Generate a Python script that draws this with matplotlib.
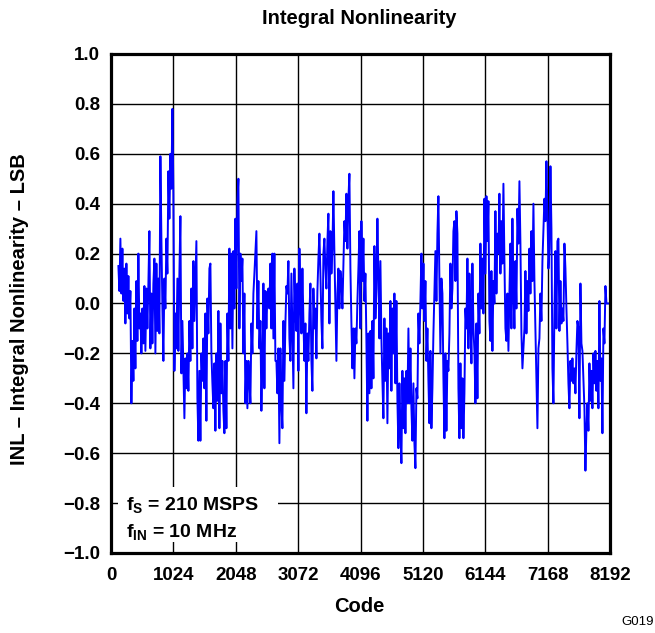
import numpy as np
import matplotlib
matplotlib.use("Agg")
import matplotlib.pyplot as plt
from matplotlib.patches import Rectangle

plt.rcParams['font.family'] = ['Liberation Sans', 'DejaVu Sans']
plt.rcParams['mathtext.fontset'] = 'custom'
plt.rcParams['mathtext.rm'] = 'Liberation Sans:bold'
plt.rcParams['mathtext.it'] = 'Liberation Sans:bold'
plt.rcParams['mathtext.bf'] = 'Liberation Sans:bold'

# ---- data (INL in LSB, evenly spaced in code) ----
code_start = 121
code_end = 8117
inl_seg1 = [0.15, 0.05, 0.26, 0.04, 0.22, 0.01, 0.14, -0.08, 0.16, -0.04,
            0.11, -0.06, 0.05, -0.40, -0.15, -0.31, -0.02, -0.26, 0.09, -0.15,
            0.20, -0.10, -0.04, -0.20, -0.02, -0.16, 0.07, -0.19, 0.06, -0.10,
            0.08, 0.29, -0.18, 0.04, -0.16, 0.08, 0.18, -0.20, 0.16, -0.11,
            0.10, -0.12, 0.59, 0.26, -0.02, -0.23, 0.10, -0.02, 0.26, 0.12,
            0.53, 0.34, 0.60, 0.46, 0.78, 0.44, -0.27, -0.04, -0.18, 0.10,
            -0.19, 0.12, 0.35, -0.28, -0.07, -0.27, -0.46, -0.22, -0.34, -0.20,
            -0.35, -0.07, -0.23, 0.06, -0.18]
inl_seg2 = [0.17, -0.07, 0.09, 0.25, -0.38, -0.55, -0.27, -0.55, -0.20, -0.31,
            -0.14, -0.34, -0.04, -0.47, 0.02, -0.12, 0.14, 0.16, -0.20, -0.32,
            -0.42, -0.24, -0.51, -0.20, -0.39, -0.03, -0.50, -0.08, -0.36, -0.23,
            -0.43, -0.52, -0.23, -0.50, -0.04, -0.23, 0.22, -0.10, 0.20, -0.18,
            0.21, -0.02, 0.34, 0.06, 0.41, 0.50, -0.10, 0.20, 0.09, 0.18,
            -0.20, 0.04, -0.40, -0.23, -0.42, -0.23, -0.31, -0.40, -0.08, -0.20,
            0.04, 0.12, 0.21, 0.29, -0.10, 0.09, -0.18, -0.07, -0.43, -0.22,
            0.08, -0.34, 0.05, -0.10, 0.04, 0.06, -0.02, 0.16, -0.10, 0.20,
            -0.14, 0.20, -0.23]
inl_seg3 = [-0.23, -0.36, -0.18, -0.56, -0.18, -0.40, -0.50, -0.07, -0.31, -0.08,
            0.07, 0.04, 0.17, -0.14, -0.23, 0.12, -0.12, -0.34, 0.14, -0.04,
            -0.11, 0.08, -0.27, 0.22, 0.01, -0.12, 0.14, -0.07, -0.23, -0.08,
            -0.44, -0.12, -0.23, -0.04, 0.08, -0.23, -0.35, 0.06, -0.10, -0.02,
            -0.22, 0.05, 0.18, 0.28, 0.12, -0.07, -0.18, 0.20, 0.26, 0.14,
            0.06, 0.25, 0.36, -0.08, 0.29, 0.12, 0.22, 0.45, 0.20, -0.02,
            -0.23, 0.04, 0.14, -0.02, 0.13, 0.09, -0.02, 0.16, 0.33, 0.25,
            0.44, 0.22, 0.42, 0.52, 0.14, -0.08, -0.26, -0.10, -0.30, -0.10,
            -0.16, 0.01, 0.14]
inl_seg4 = [0.29, -0.10, 0.33, 0.09, 0.26, 0.01, 0.12, -0.15, -0.47, -0.12,
            -0.36, -0.11, -0.34, -0.07, -0.30, 0.23, -0.06, 0.06, 0.34, 0.12,
            -0.14, 0.17, -0.14, -0.31, -0.46, -0.06, -0.31, -0.10, -0.48, -0.12,
            -0.26, 0.01, -0.35, -0.02, -0.20, 0.04, -0.32, 0.01, -0.39, -0.58,
            -0.32, -0.50, -0.64, -0.27, -0.50, -0.30, -0.52, -0.27, -0.40, -0.10,
            -0.40, -0.18, -0.42, -0.55, -0.32, -0.56, -0.66, -0.34, -0.38, -0.04,
            -0.16, 0.01, 0.20, -0.02, 0.16, -0.07, 0.09, -0.23, -0.10, -0.31,
            -0.48, -0.19, -0.50, -0.34, -0.12, 0.04, 0.21, 0.01, 0.28, 0.43,
            0.09, -0.20, 0.10]
inl_seg5 = [0.04, -0.30, -0.54, -0.20, -0.51, -0.23, -0.27, -0.12, 0.16, -0.02,
            0.06, 0.29, 0.33, 0.09, 0.37, 0.28, -0.34, -0.54, -0.24, -0.50,
            -0.30, -0.54, -0.36, -0.02, -0.10, 0.18, -0.18, 0.12, -0.04, -0.24,
            0.16, -0.10, -0.19, -0.40, -0.08, -0.38, 0.04, -0.12, 0.24, -0.02,
            0.18, -0.04, 0.42, 0.12, 0.43, 0.25, 0.41, -0.07, -0.15, 0.13,
            -0.19, 0.09, 0.00, 0.37, 0.04, 0.28, 0.20, 0.44, 0.12, 0.33,
            0.16, 0.48, 0.17, -0.10, -0.15, 0.04, -0.19, 0.04, 0.24, -0.10,
            0.34, 0.05, -0.10, 0.17, -0.02, 0.38, 0.24, 0.49, 0.24, -0.12,
            -0.26, -0.18, -0.10]
inl_seg6 = [0.13, -0.12, 0.09, -0.03, 0.22, 0.04, 0.29, 0.09, 0.40, 0.09,
            -0.10, -0.31, -0.50, -0.18, -0.14, 0.04, -0.07, 0.17, 0.30, 0.42,
            0.33, 0.57, 0.37, 0.14, 0.22, 0.55, 0.30, -0.26, -0.40, -0.03,
            0.21, -0.10, 0.25, 0.26, -0.11, 0.09, -0.08, -0.02, -0.07, 0.24,
            0.14, -0.02, -0.16, -0.32, -0.42, -0.23, -0.31, -0.22, -0.32, -0.26,
            -0.36, -0.19, -0.07, -0.10, -0.46, 0.08, -0.16, -0.19, -0.31, -0.42,
            -0.67, -0.50, -0.40, -0.51, -0.24, -0.39, -0.27, -0.42, -0.20, -0.32,
            -0.19, -0.35, -0.23, -0.42, 0.01, -0.31, -0.22, -0.52, -0.10, -0.16,
            0.07]
tail_codes = [8134, 8192]
tail_inl = [0.0, 0.0]

x_ticks = [0, 1024, 2048, 3072, 4096, 5120, 6144, 7168, 8192]
y_ticks = [-1.0, -0.8, -0.6, -0.4, -0.2, 0.0, 0.2, 0.4, 0.6, 0.8, 1.0]

inl = inl_seg1 + inl_seg2 + inl_seg3 + inl_seg4 + inl_seg5 + inl_seg6
codes = np.linspace(code_start, code_end, len(inl))
codes = np.concatenate([codes, tail_codes])
inl = np.array(inl + tail_inl)

# ---- figure ----
fig = plt.figure(figsize=(6.55, 6.33), dpi=100)
ax = fig.add_axes([0.1695, 0.1264, 0.7618, 0.7883])

ax.plot(codes, inl, color='#0000FF', lw=1.4, zorder=3)

ax.set_xlim(0, 8192)
ax.set_ylim(-1.0, 1.0)
ax.set_xticks(x_ticks)
ax.set_yticks(y_ticks)
ax.set_xticklabels([str(t) for t in x_ticks])
ax.set_yticklabels([f"{t:.1f}".replace('-', '\u2212') for t in y_ticks])
ax.tick_params(axis='both', length=0, labelsize=13.5)
ax.tick_params(axis='x', pad=10)
ax.tick_params(axis='y', pad=8)
for lab in ax.get_xticklabels() + ax.get_yticklabels():
    lab.set_fontweight('bold')

ax.grid(True, color='black', lw=1.0, zorder=1)
for s in ax.spines.values():
    s.set_linewidth(2.3)
    s.set_zorder(5)

fig.text(0.548, 1 - 18 / 633, 'Integral Nonlinearity', ha='center', va='center',
         fontsize=14.5, fontweight='bold')
fig.text(0.548, 1 - 606 / 633, 'Code', ha='center', va='center',
         fontsize=14.5, fontweight='bold')
fig.text(20 / 655, 1 - 309 / 633, 'INL \u2013 Integral Nonlinearity \u2013 LSB',
         rotation=90, ha='center', va='center', fontsize=14.5, fontweight='bold')
fig.text(638 / 655, 1 - 622 / 633, 'G019', ha='center', va='center', fontsize=9.5)

# white backing box for the annotation
ax.add_patch(Rectangle((0.014, 0.022), 0.32, 0.11, transform=ax.transAxes,
                       facecolor='white', edgecolor='none', zorder=4))
ax.text(0.03, 0.097, r'$f_S$ = 210 MSPS', transform=ax.transAxes,
        fontsize=14, fontweight='bold', ha='left', va='center', zorder=5)
ax.text(0.03, 0.043, r'$f_{IN}$ = 10 MHz', transform=ax.transAxes,
        fontsize=14, fontweight='bold', ha='left', va='center', zorder=5)

fig.savefig('out.png', dpi=100)
